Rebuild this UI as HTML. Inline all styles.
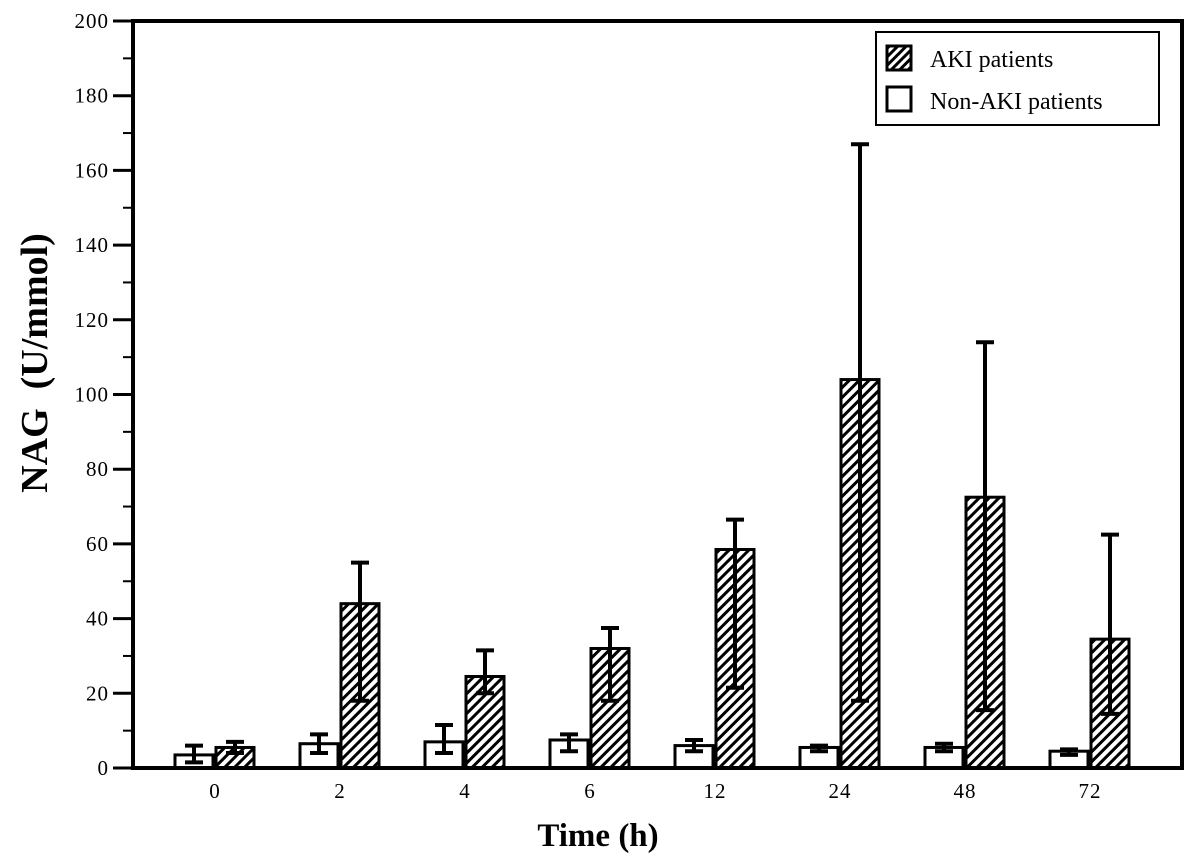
<!DOCTYPE html>
<html><head><meta charset="utf-8"><style>
body{margin:0;background:#fff}
svg text{font-family:"Liberation Serif",serif;fill:#000}
</style></head><body>
<svg id="c" width="1199" height="862">
<defs><pattern id="hatch" patternUnits="userSpaceOnUse" width="7" height="7" patternTransform="rotate(45)">
<rect width="7" height="7" fill="#fff"/><rect width="3" height="7" fill="#000"/></pattern></defs>
</svg>
<script>
const categories=["0","2","4","6","12","24","48","72"];
const nonAkiMean=[3.5,6.5,7,7.5,6,5.5,5.5,4.5];
const nonAkiUpper=[6,9,11.5,9,7.5,6,6.5,5];
const nonAkiLower=[1.5,4,4,4.5,4.5,4.5,4.5,3.5];
const akiMean=[5.5,44,24.5,32,58.5,104,72.5,34.5];
const akiUpper=[7,55,31.5,37.5,66.5,167,114,62.5];
const akiLower=[4,18,20,18,21.5,18,15.5,14.5];
const yTicks=[0,20,40,60,80,100,120,140,160,180,200];
const svg=document.getElementById('c');const NS='http://www.w3.org/2000/svg';
const X0=133,X1=1182,Y0=768,Y1=21;
const y=v=>Y0-(v/200)*(Y0-Y1);
const x=i=>215+i*125;
function mk(t,a,p){const e=document.createElementNS(NS,t);for(const k in a)e.setAttribute(k,a[k]);(p||svg).appendChild(e);return e;}
yTicks.forEach((v,i)=>{
 const t=mk('line',{x1:X0-20,x2:X0,y1:y(v),y2:y(v),stroke:'#000','stroke-width':3});
 
 
 if(i<yTicks.length-1){const m=mk('line',{x1:X0-10,x2:X0,y1:y(v+10),y2:y(v+10),stroke:'#000','stroke-width':2});
 
 }
 const l=mk('text',{x:X0-24,y:y(v)+7,'text-anchor':'end','font-size':21,'letter-spacing':1});l.textContent=v;
 
 
});
function bar(cx,w,m,up,lo,fill,name){
 const r=mk('rect',{x:cx,y:y(m),width:w,height:Y0-y(m),fill:fill,stroke:'#000','stroke-width':3});
 
 
 const mid=cx+w/2;
 const g=mk('g',{stroke:'#000','stroke-width':4});
 
 
 mk('line',{x1:mid,x2:mid,y1:y(up),y2:y(lo)},g);
 mk('line',{x1:mid-9,x2:mid+9,y1:y(up),y2:y(up)},g);
 mk('line',{x1:mid-9,x2:mid+9,y1:y(lo),y2:y(lo)},g);
}
categories.forEach((c,i)=>{
 bar(x(i)-40,38,nonAkiMean[i],nonAkiUpper[i],nonAkiLower[i],'#fff','bar-non-aki-'+c);
 bar(x(i)+1,38,akiMean[i],akiUpper[i],akiLower[i],'url(#hatch)','bar-aki-'+c);
 const l=mk('text',{x:x(i),y:Y0+30,'text-anchor':'middle','font-size':21,'letter-spacing':1});l.textContent=c;
 
 
});
const f=mk('rect',{x:X0,y:Y1,width:X1-X0,height:Y0-Y1,fill:'none',stroke:'#000','stroke-width':4});


</script>
<svg style="position:absolute;left:0;top:0" width="1199" height="862">
<g>
<rect x="876" y="32" width="283" height="93" fill="#fff" stroke="#000" stroke-width="2"/>
<defs><pattern id="hatch2" patternUnits="userSpaceOnUse" width="6" height="6" patternTransform="rotate(45)"><rect width="6" height="6" fill="#fff"/><rect width="3" height="6" fill="#000"/></pattern></defs>
<rect x="887" y="46" width="24" height="24" fill="url(#hatch2)" stroke="#000" stroke-width="3"/>
<text x="930" y="67" font-size="24">AKI patients</text>
<rect x="887" y="87" width="24" height="24" fill="#fff" stroke="#000" stroke-width="3"/>
<text x="930" y="109" font-size="24">Non-AKI patients</text>
</g>
<text x="598" y="846" text-anchor="middle" font-size="33" font-weight="bold">Time (h)</text>
<text transform="translate(47,363) rotate(-90)" text-anchor="middle" font-size="38" font-weight="bold">NAG&#160;&#160;(U/mmol)</text>
</svg>
</body></html>
